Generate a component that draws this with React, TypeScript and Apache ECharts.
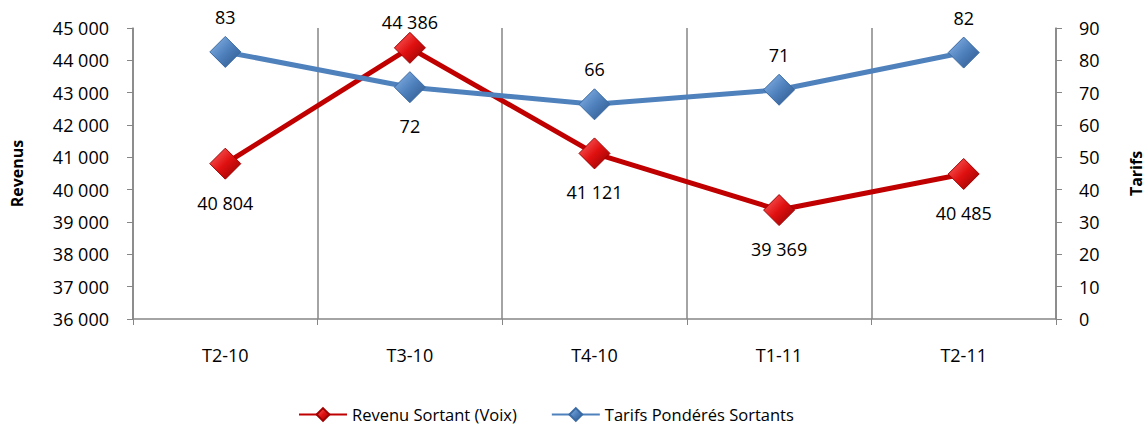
import React, { useEffect, useRef } from "react";
import * as echarts from "echarts";

const categories = ["T2-10", "T3-10", "T4-10", "T1-11", "T2-11"];
const revenus = [40804, 44386, 41121, 39369, 40485];
const tarifs = [82.6, 71.7, 66.4, 70.9, 82.4];
const revenuLabelPos = ["bottom", "top", "bottom", "bottom", "bottom"];
const tarifLabelPos = ["top", "bottom", "top", "top", "top"];

const FONT = "'Open Sans', 'Noto Sans', sans-serif";
const FS = 18;
const fmt = (v: number) => String(Math.round(v)).replace(/\B(?=(\d{3})+(?!\d))/g, " ");

export default function App() {
  const ref = useRef<HTMLDivElement>(null);
  useEffect(() => {
    const chart = echarts.init(ref.current!, null, { renderer: "svg" });
    const grad = (light: string, mid: string, dark: string) =>
      new echarts.graphic.LinearGradient(0, 0, 1, 1, [
        { offset: 0, color: light },
        { offset: 0.5, color: mid },
        { offset: 1, color: dark },
      ]);
    const redFill = grad("#ff6b6b", "#e01010", "#8a0000");
    const blueFill = grad("#8fb8ea", "#4f81bd", "#2c5488");
    const labelDist = (pos: string) => (pos === "top" ? 10 : 14);
    chart.setOption({
      animation: false,
      textStyle: { fontFamily: FONT },
      grid: { left: 133, right: 90, top: 28, bottom: 109, containLabel: false, outerBoundsMode: "none" },
      legend: {
        bottom: 0,
        left: 293,
        itemWidth: 48,
        itemHeight: 16,
        itemGap: 34,
        textStyle: { fontSize: 16.5, color: "#000", fontFamily: FONT },
        data: ["Revenu Sortant (Voix)", "Tarifs Pondérés Sortants"],
      },
      xAxis: {
        type: "category",
        data: categories,
        boundaryGap: true,
        axisLine: { lineStyle: { color: "#868686", width: 1.5 } },
        axisTick: { show: true, length: 6, lineStyle: { color: "#868686" } },
        axisLabel: { color: "#000", fontSize: FS, margin: 27, fontFamily: FONT },
        splitLine: { show: true, lineStyle: { color: "#868686", width: 1.5 } },
      },
      yAxis: [
        {
          type: "value",
          min: 36000,
          max: 45000,
          interval: 1000,
          name: "Revenus",
          nameLocation: "middle",
          nameGap: 108,
          nameTextStyle: { fontWeight: "bold", fontSize: 16, color: "#000", fontFamily: FONT },
          axisLine: { show: true, lineStyle: { color: "#868686", width: 1.5 } },
          axisTick: { show: true, length: 6, lineStyle: { color: "#868686" } },
          axisLabel: { color: "#000", fontSize: FS, margin: 24, formatter: (v: number) => fmt(v), fontFamily: FONT },
          splitLine: { show: false },
        },
        {
          type: "value",
          min: 0,
          max: 90,
          interval: 10,
          name: "Tarifs",
          nameLocation: "middle",
          nameGap: 72,
          nameRotate: 90,
          nameTextStyle: { fontWeight: "bold", fontSize: 16, color: "#000", fontFamily: FONT },
          axisLine: { show: true, lineStyle: { color: "#868686", width: 1.5 } },
          axisTick: { show: true, length: 6, lineStyle: { color: "#868686" } },
          axisLabel: { color: "#000", fontSize: FS, margin: 23, fontFamily: FONT },
          splitLine: { show: false },
        },
      ],
      series: [
        {
          name: "Revenu Sortant (Voix)",
          type: "line",
          yAxisIndex: 0,
          symbol: "diamond",
          symbolSize: 31,
          lineStyle: { color: "#c00000", width: 5 },
          itemStyle: { color: redFill, borderColor: "#a00000", borderWidth: 1 },
          data: revenus.map((v, i) => ({
            value: v,
            label: {
              show: true,
              position: revenuLabelPos[i],
              distance: i === 1 ? 1 : labelDist(revenuLabelPos[i]),
              formatter: () => fmt(v),
              fontSize: FS,
              color: "#000",
              fontFamily: FONT,
            },
          })),
          z: 3,
        },
        {
          name: "Tarifs Pondérés Sortants",
          type: "line",
          yAxisIndex: 1,
          symbol: "diamond",
          symbolSize: 31,
          lineStyle: { color: "#4f81bd", width: 5 },
          itemStyle: { color: blueFill, borderColor: "#3a6aa3", borderWidth: 1 },
          data: tarifs.map((v, i) => ({
            value: v,
            label: {
              show: true,
              position: tarifLabelPos[i],
              distance: labelDist(tarifLabelPos[i]),
              formatter: () => fmt(v),
              fontSize: FS,
              color: "#000",
              fontFamily: FONT,
            },
          })),
          z: 4,
        },
      ],
    });
    return () => chart.dispose();
  }, []);
  return <div ref={ref} style={{ width: 1146, height: 428, position: "absolute", left: 0, top: 0 }} />;
}
